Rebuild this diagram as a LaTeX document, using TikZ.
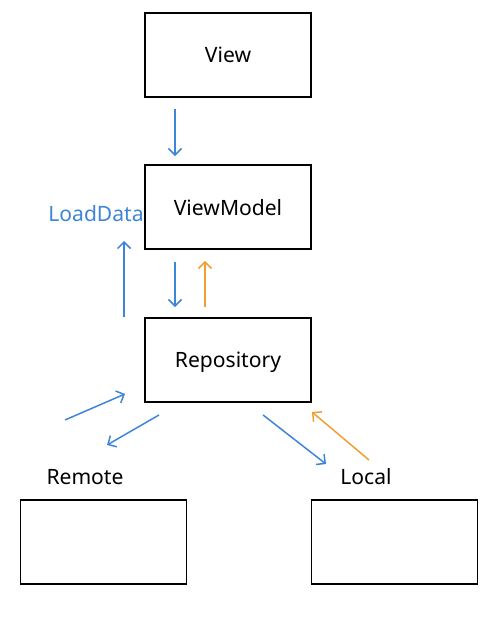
\documentclass[tikz,border=0pt]{standalone}
\usepackage{fontspec}
\setmainfont{Noto Sans}
\usetikzlibrary{arrows.meta}
\tikzset{>={Straight Barb[length=1.3mm,width=2.6mm]}}
\tikzset{
  layer/.style={draw,line width=1.1pt,minimum width=3.32cm,minimum height=1.68cm,inner sep=0pt,text depth=0pt},
  label/.style={inner sep=1pt,font=\fontsize{12}{14}\selectfont},
  bluearrow/.style={->,line width=0.85pt,draw={rgb,255:red,61;green,133;blue,214}},
  orangearrow/.style={->,line width=0.85pt,draw={rgb,255:red,240;green,160;blue,50}},
}

\begin{document}
\begin{tikzpicture}[x=0.02cm,y=0.02cm]
  \useasboundingbox (0,0) rectangle (500,-622);
  % layers
  \node[layer,label] (view)       at (228,-55)  {View};
  \node[layer,label] (viewmodel)  at (228,-207) {ViewModel};
  \node[layer,label] (repository) at (228,-360) {Repository};
  \node[layer] (remote) at (103.5,-542) {};
  \node[layer] (local)  at (394.5,-542) {};
  % texts
  \node[label,text={rgb,255:red,61;green,133;blue,214}] (loaddata) at (96,-214) {LoadData};
  \node[label] (remotelabel) at (85,-477)  {Remote};
  \node[label] (locallabel)  at (366,-477) {Local};
  % arrows
  \draw[bluearrow] ([shift={(-53,-11)}]view.south) -- ([shift={(-53,8)}]viewmodel.north);
  \draw[bluearrow] ([shift={(-53,-12)}]viewmodel.south) -- ([shift={(-53,10)}]repository.north);
  \draw[orangearrow] ([shift={(-23,10)}]repository.north) -- ([shift={(-23,-11)}]viewmodel.south);
  \draw[bluearrow] ([shift={(-20,0)}]repository.north west) -- ([shift={(-20,9)}]viewmodel.south west);
  \draw[bluearrow] ([shift={(-79,-17)}]repository.south west) -- ([shift={(-19,9)}]repository.south west);
  \draw[bluearrow] ([shift={(15,-12)}]repository.south west) -- ([shift={(-37,-42)}]repository.south west);
  \draw[bluearrow] ([shift={(35,-12)}]repository.south) -- ([shift={(-40,13)}]locallabel.center);
  \draw[orangearrow] ([shift={(3,17)}]locallabel.center) -- ([shift={(0,-9)}]repository.south east);
\end{tikzpicture}
\end{document}
